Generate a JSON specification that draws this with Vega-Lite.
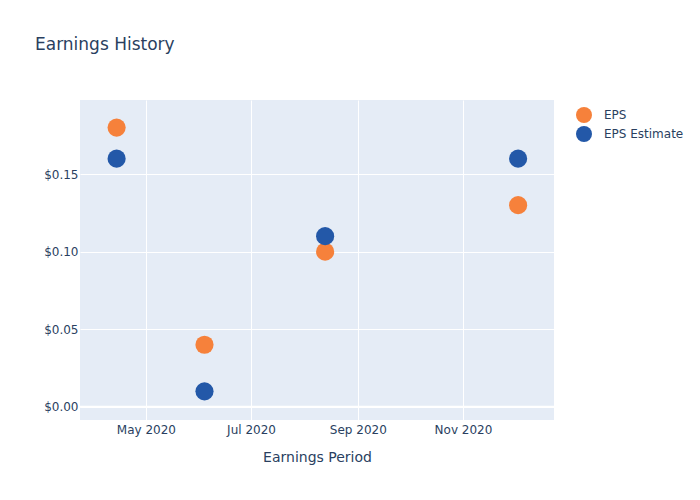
{
  "$schema": "https://vega.github.io/schema/vega-lite/v6.json",
  "width": 474,
  "height": 320,
  "autosize": {"type": "none"},
  "padding": {"left": 80, "top": 100, "right": 146, "bottom": 80},
  "background": "white",
  "title": {
    "text": "Earnings History",
    "anchor": "start",
    "frame": "group",
    "dx": -45,
    "offset": 46,
    "fontSize": 17,
    "font": "DejaVu Sans",
    "fontWeight": "normal",
    "color": "#2a3f5f"
  },
  "config": {
    "view": {"fill": "#E5ECF6", "stroke": null},
    "font": "DejaVu Sans"
  },
  "data": {
    "values": [
      {"date": "2020-04-14", "series": "EPS", "value": 0.18},
      {"date": "2020-04-14", "series": "EPS Estimate", "value": 0.16},
      {"date": "2020-06-04", "series": "EPS", "value": 0.04},
      {"date": "2020-06-04", "series": "EPS Estimate", "value": 0.01},
      {"date": "2020-08-13", "series": "EPS", "value": 0.10},
      {"date": "2020-08-13", "series": "EPS Estimate", "value": 0.11},
      {"date": "2020-12-03", "series": "EPS", "value": 0.13},
      {"date": "2020-12-03", "series": "EPS Estimate", "value": 0.16}
    ]
  },
  "layer": [
    {
      "mark": {"type": "rule", "color": "white", "strokeWidth": 2},
      "data": {"values": [{"z": 0}]},
      "encoding": {"y": {"field": "z", "type": "quantitative", "scale": {"domain": [-0.0085, 0.1978], "zero": false, "nice": false}}}
    },
    {
      "mark": {"type": "circle", "opacity": 1, "size": 330},
      "encoding": {
        "x": {
          "field": "date",
          "type": "temporal",
          "title": "Earnings Period",
          "scale": {
            "type": "utc",
            "domain": [
              {"year": 2020, "month": 3, "date": 23, "hours": 18, "utc": true},
              {"year": 2020, "month": 12, "date": 23, "hours": 20, "utc": true}
            ],
            "nice": false
          },
          "axis": {
            "values": [
              {"year": 2020, "month": 5, "date": 1, "utc": true},
              {"year": 2020, "month": 7, "date": 1, "utc": true},
              {"year": 2020, "month": 9, "date": 1, "utc": true},
              {"year": 2020, "month": 11, "date": 1, "utc": true}
            ],
            "format": "%b %Y",
            "grid": true,
            "gridColor": "white",
            "gridWidth": 1,
            "domain": false,
            "ticks": false,
            "labelPadding": 4,
            "labelFontSize": 12,
            "labelColor": "#2a3f5f",
            "titleFontSize": 14,
            "titleFontWeight": "normal",
            "titleColor": "#2a3f5f",
            "titlePadding": 15
          }
        },
        "y": {
          "field": "value",
          "type": "quantitative",
          "title": null,
          "scale": {"domain": [-0.0085, 0.1978], "zero": false, "nice": false},
          "axis": {
            "values": [0, 0.05, 0.1, 0.15],
            "format": "$.2f",
            "grid": true,
            "gridColor": "white",
            "gridWidth": 1,
            "domain": false,
            "ticks": false,
            "labelPadding": 2,
            "labelFontSize": 12,
            "labelColor": "#2a3f5f"
          }
        },
        "color": {
          "field": "series",
          "type": "nominal",
          "scale": {"domain": ["EPS", "EPS Estimate"], "range": ["#F6813B", "#2358A8"]},
          "legend": {
            "title": null,
            "orient": "none",
            "legendX": 495,
            "legendY": 6,
            "padding": 0,
            "symbolSize": 256,
            "symbolType": "circle",
            "symbolOpacity": 1,
            "labelFontSize": 12,
            "labelColor": "#2a3f5f",
            "labelOffset": 11,
            "rowPadding": 2
          }
        }
      }
    }
  ]
}
